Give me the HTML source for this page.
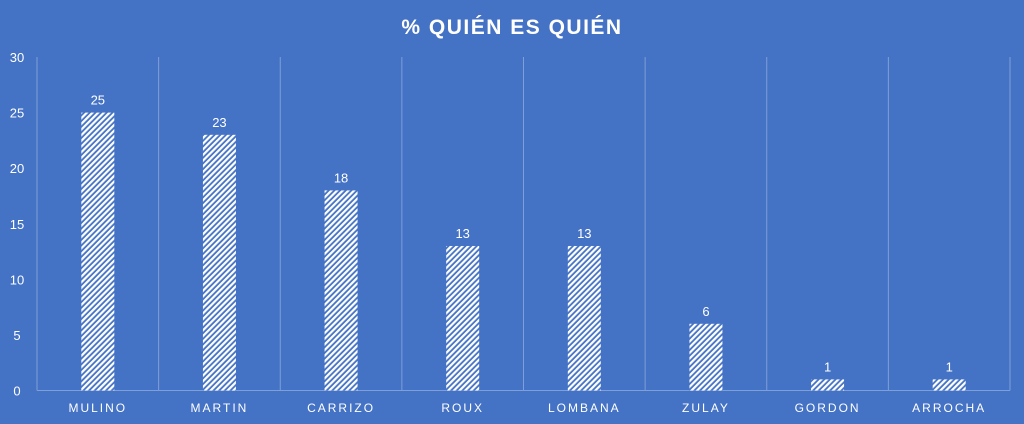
<!DOCTYPE html>
<html><head><meta charset="utf-8"><style>
body{margin:0;background:#4472c4;}
svg{display:block;font-family:"Liberation Sans",sans-serif;}
</style></head><body>
<svg id="chart" width="1024" height="424" viewBox="0 0 1024 424">
<defs>
<pattern id="hatch" patternUnits="userSpaceOnUse" width="4" height="4" patternTransform="rotate(45)">
<rect width="4" height="4" fill="#4472c4"/>
<rect x="0" y="0" width="2.2" height="4" fill="#ffffff"/>
</pattern>
</defs>
<rect width="1024" height="424" fill="#4472c4"/>
<text x="512" y="34" text-anchor="middle" fill="#fff" font-size="21" font-weight="bold" letter-spacing="1.5">% QUIÉN ES QUIÉN</text>
<g id="grid"></g><g id="bars"></g><g id="labels"></g>
</svg>
<script>
const categories=["MULINO","MARTIN","CARRIZO","ROUX","LOMBANA","ZULAY","GORDON","ARROCHA"];
const values=[25,23,18,13,13,6,1,1];
const yTicks=[0,5,10,15,20,25,30];
const NS="http://www.w3.org/2000/svg";
const x0=37,x1=1010,yBase=390.5,yTop=57,yMax=30;
const band=(x1-x0)/categories.length;
const y=v=>yBase-(yBase-yTop)*v/yMax;
const bx=i=>x0+band*i;
function mk(t,a,p){const e=document.createElementNS(NS,t);for(const k in a)e.setAttribute(k,a[k]);p.appendChild(e);return e;}
const grid=document.getElementById('grid'),bars=document.getElementById('bars'),labels=document.getElementById('labels');
for(let i=0;i<=categories.length;i++){
 const l=mk('line',{x1:bx(i),x2:bx(i),y1:yTop,y2:yBase,stroke:'#7f9fd8','stroke-width':1},grid);
 
 
}
const ax=mk('line',{x1:x0,x2:x1,y1:yBase,y2:yBase,stroke:'#7f9fd8','stroke-width':1},grid);


yTicks.forEach(t=>{
 const e=mk('text',{x:17,y:y(t)+5,'text-anchor':'middle',fill:'#fff','font-size':13},labels);
 e.textContent=t;
 
 
});
categories.forEach((c,i)=>{
 const cx=bx(i)+band/2,w=33;
 const r=mk('rect',{x:cx-w/2,y:y(values[i]),width:w,height:yBase-y(values[i]),fill:'url(#hatch)'},bars);
 
 
 const v=mk('text',{x:cx,y:y(values[i])-8,'text-anchor':'middle',fill:'#fff','font-size':13},labels);
 v.textContent=values[i];
 
 
 const t=mk('text',{x:cx,y:412,'text-anchor':'middle',fill:'#fff','font-size':12,'letter-spacing':'2'},labels);
 t.textContent=c;
 
 
});
</script>
</body></html>
